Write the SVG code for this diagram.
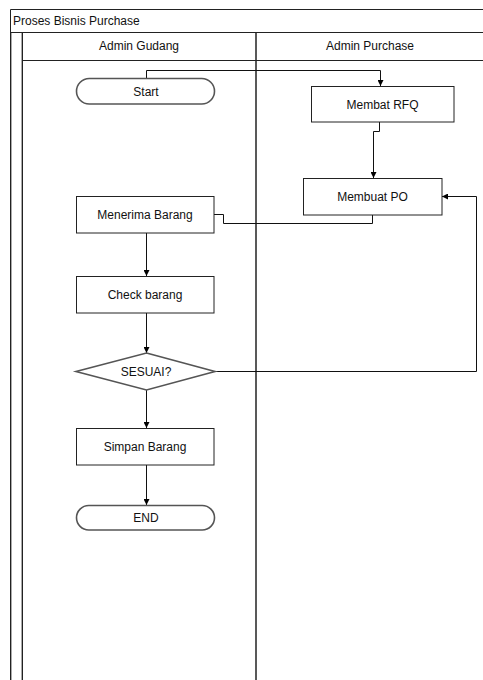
<svg xmlns="http://www.w3.org/2000/svg" width="483" height="680" viewBox="0 0 483 680">
  <defs>
    <marker id="arrow" viewBox="0 0 10 10" refX="10" refY="5" markerWidth="6" markerHeight="6" orient="auto" markerUnits="userSpaceOnUse">
      <path d="M0,0 L10,5 L0,10 z" fill="#000"/>
    </marker>
  </defs>
  <style>
    text { font-family: "Liberation Sans", Arial, sans-serif; font-size: 12px; fill: #111; }
    .mid { text-anchor: middle; dominant-baseline: central; }
    .frame { fill: none; stroke: #222; stroke-width: 1; }
    .lane { fill: none; stroke: #222; stroke-width: 1.5; }
    .box { fill: #fff; stroke: #222; stroke-width: 1; }
    .term { fill: #fff; stroke: #555; stroke-width: 1.6; }
    .edge { fill: none; stroke: #111; stroke-width: 1; }
  </style>

  <rect width="483" height="680" fill="#fff"/>

  <!-- pool and lanes -->
  <g id="pool">
    <path class="frame" d="M10.5,690 V9.5 H490"/>
    <line class="frame" x1="10.5" y1="32.5" x2="490" y2="32.5"/>
    <text x="13" y="21" dominant-baseline="central">Proses Bisnis Purchase</text>
    <line x1="11.5" y1="33" x2="11.5" y2="690" stroke="#aaa" stroke-width="1"/>
    <line class="frame" x1="22.5" y1="32.5" x2="22.5" y2="690"/>
    <line x1="21.5" y1="33" x2="21.5" y2="690" stroke="#aaa" stroke-width="1"/>
    <line class="frame" x1="22.5" y1="60.5" x2="490" y2="60.5"/>
    <line class="lane" x1="256" y1="32.5" x2="256" y2="690"/>
  </g>
  <g id="lane-gudang">
    <text class="mid" x="139" y="46">Admin Gudang</text>
  </g>
  <g id="lane-purchase">
    <text class="mid" x="370" y="46">Admin Purchase</text>
  </g>

  <!-- connectors -->
  <g id="connectors">
    <path class="edge" d="M146.5,78 V70.5 H380.5 V86" marker-end="url(#arrow)"/>
    <path class="edge" d="M379.5,122 V131.5 H373.5 V178" marker-end="url(#arrow)"/>
    <path class="edge" d="M372.5,215 V223.5 H223.5 V214.5 H214"/>
    <path class="edge" d="M146.5,233 V276" marker-end="url(#arrow)"/>
    <path class="edge" d="M146.5,313 V353" marker-end="url(#arrow)"/>
    <path class="edge" d="M215,371.5 H476.5 V196.5 H442" marker-end="url(#arrow)"/>
    <path class="edge" d="M146.5,390 V428" marker-end="url(#arrow)"/>
    <path class="edge" d="M146.5,465 V505" marker-end="url(#arrow)"/>
  </g>

  <!-- nodes -->
  <g id="start">
    <rect class="term" x="76.5" y="78.5" width="138" height="25.5" rx="12.75"/>
    <text class="mid" x="146" y="91.5">Start</text>
  </g>
  <g id="membat-rfq">
    <rect class="box" x="311.5" y="86.5" width="142.5" height="35.5"/>
    <text class="mid" x="382.5" y="104.5">Membat RFQ</text>
  </g>
  <g id="membuat-po">
    <rect class="box" x="303.5" y="178.5" width="138.5" height="36.5"/>
    <text class="mid" x="372.5" y="197">Membuat PO</text>
  </g>
  <g id="menerima-barang">
    <rect class="box" x="76.5" y="196.5" width="137.5" height="36.5"/>
    <text class="mid" x="145" y="215">Menerima Barang</text>
  </g>
  <g id="check-barang">
    <rect class="box" x="76.5" y="276.5" width="137.5" height="36.5"/>
    <text class="mid" x="145" y="295">Check barang</text>
  </g>
  <g id="sesuai">
    <polygon class="term" points="146.5,353 215,371.5 146.5,390 76,371.5"/>
    <text class="mid" x="146" y="371.5">SESUAI?</text>
  </g>
  <g id="simpan-barang">
    <rect class="box" x="76.5" y="428.5" width="137.5" height="36.5"/>
    <text class="mid" x="145" y="447">Simpan Barang</text>
  </g>
  <g id="end">
    <rect class="term" x="76.5" y="505.5" width="138" height="24.5" rx="12.25"/>
    <text class="mid" x="146" y="518">END</text>
  </g>
</svg>
